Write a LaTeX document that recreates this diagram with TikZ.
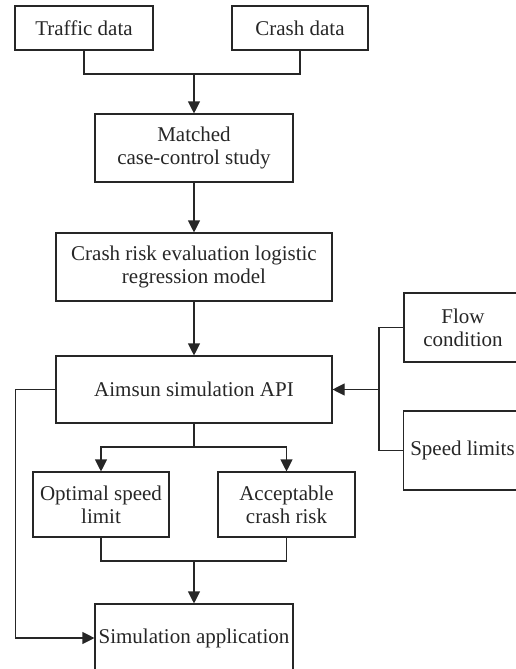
\documentclass[tikz,border=0pt]{standalone}
\usepackage{fontspec}
\setmainfont{Liberation Serif}
\usetikzlibrary{arrows.meta}
\begin{document}
\begin{tikzpicture}[x=1pt, y=-1pt, line width=1.1pt, color={black!85},
    font=\fontsize{21}{23}\selectfont,
    box/.style={draw, rectangle, inner sep=0pt, align=center},
    arr/.style={-{Triangle[length=12pt, width=12pt]}}]
      % page area
      \clip (0,0) rectangle (516,669);

      % input boxes
      \node (traffic) [box, minimum width=138, minimum height=44] at (84,28)    {Traffic data};
      \node (crash)   [box, minimum width=136, minimum height=44] at (300,28)   {Crash data};
      \node (matched) [box, minimum width=198, minimum height=68] at (194,148)  {Matched\\case-control study};
      \node (crisk)   [box, minimum width=276, minimum height=68] at (194,267)  {Crash risk evaluation logistic\\regression model};
      \node (aim)     [box, minimum width=276, minimum height=67] at (194,389.5) {Aimsun simulation API};

      % right side inputs
      \node (flow)    [box, minimum width=118, minimum height=69] at (463,327.5) {Flow\\condition};
      \node (speed)   [box, minimum width=118, minimum height=79] at (462.5,450.5) {Speed limits};

      % outputs
      \node (optimal) [box, minimum width=136, minimum height=65] at (101,504.5) {Optimal speed\\limit};
      \node (accept)  [box, minimum width=137, minimum height=65] at (286.5,504.5) {Acceptable\\crash risk};
      \node (sim)     [box, minimum width=198, minimum height=68] at (194,638)  {Simulation application};

      % junction points
      \coordinate (m1) at (194,74);
      \coordinate (r1) at (379,389.5);
      \coordinate (s1) at (194,447);
      \coordinate (s2) at (194,561);

      \draw (traffic) |- (m1) -| (crash);
      \draw [arr] (m1) -- (matched);
      \draw [arr] (matched) -- (crisk);
      \draw [arr] (crisk) -- (aim);

      \draw (flow.west) -| (r1);
      \draw (speed.west) -| (r1);
      \draw [arr] (r1) -- (aim.east);

      \draw (aim) -- (s1);
      \draw [arr] (s1) -| (optimal);
      \draw [arr] (s1) -| (accept);

      \draw (optimal) |- (s2) -| (accept);
      \draw [arr] (s2) -- (sim);

      \draw [arr] (aim.west) -- ++(-40,0) |- (sim.west);
    \end{tikzpicture}
\end{document}
